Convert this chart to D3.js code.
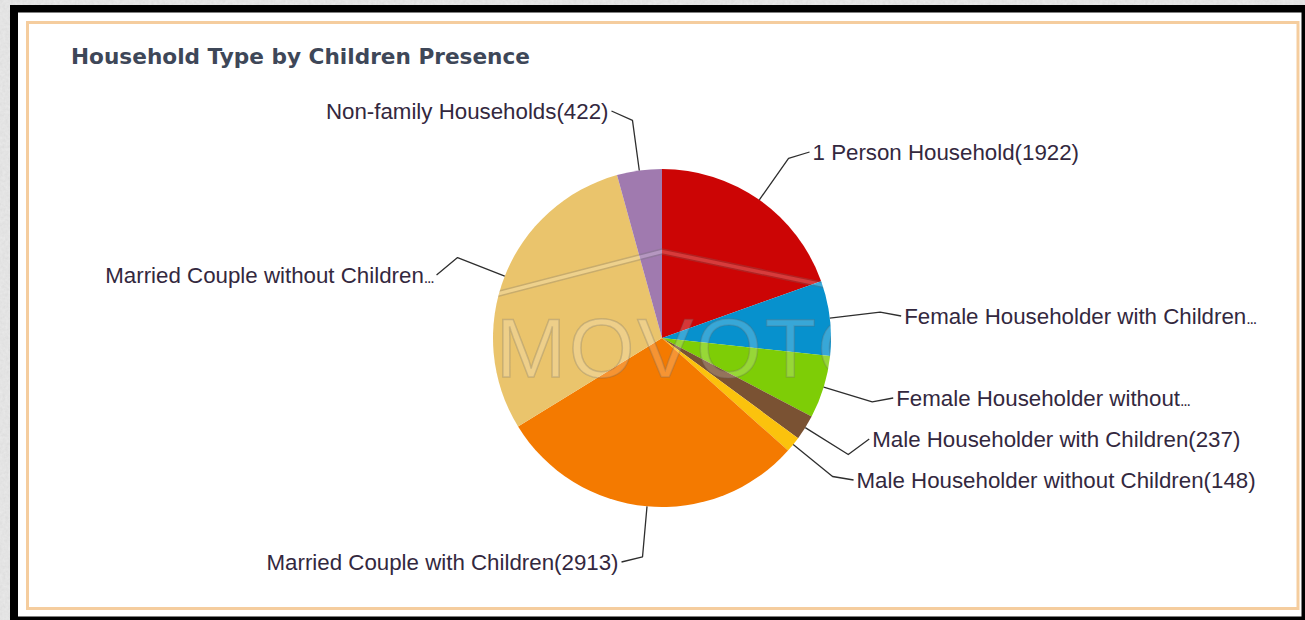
<!DOCTYPE html>
<html>
<head>
<meta charset="utf-8">
<script src="https://cdn.jsdelivr.net/npm/d3@7"></script>
<style>
  html, body { margin: 0; padding: 0; background: #d8d8d8; }
  svg { display: block; }
</style>
</head>
<body>
<svg id="chart" width="1305" height="620"></svg>
<script>
// Household counts by type, in drawing order (clockwise from 12 o'clock)
const categories = [
  "1 Person Household",
  "Female Householder with Children",
  "Female Householder without Children",
  "Male Householder with Children",
  "Male Householder without Children",
  "Married Couple with Children",
  "Married Couple without Children",
  "Non-family Households"
];
const values = [1922, 704, 590, 237, 148, 2913, 2901, 422];
const colors = ["#cc0505", "#0791cd", "#7ecd06", "#7a5233", "#fbc20d", "#f47a00", "#eac46c", "#a07aaf"];
// Labels that are cut short (an ellipsis follows) because they run out of room
const shortLabels = [null, "Female Householder with Children", "Female Householder without", null, null, null, "Married Couple without Children", null];
const title = "Household Type by Children Presence";

const W = 1305, H = 620;
const svg = d3.select("#chart");

// Marble-grey surround
const defs = svg.append("defs");
const grain = defs.append("filter").attr("id", "grain").attr("x", 0).attr("y", 0).attr("width", "100%").attr("height", "100%");
grain.append("feTurbulence").attr("type", "fractalNoise").attr("baseFrequency", 0.35).attr("numOctaves", 2).attr("seed", 4).attr("result", "n");
grain.append("feColorMatrix").attr("in", "n").attr("type", "matrix")
  .attr("values", "0 0 0 0 0.84  0 0 0 0 0.84  0 0 0 0 0.84  0 0 0 0.9 0").attr("result", "c");
grain.append("feComposite").attr("in", "c").attr("in2", "SourceGraphic").attr("operator", "over");
svg.append("rect").attr("width", W).attr("height", H).attr("fill", "#dcdcdc").attr("filter", "url(#grain)");

// Window frame and panel
svg.append("rect").attr("x", 10).attr("y", 5).attr("width", W - 10).attr("height", H - 5).attr("fill", "#000");
svg.append("rect").attr("x", 18).attr("y", 12.5).attr("width", 1283.5).attr("height", 604).attr("fill", "#fff");
svg.append("rect").attr("x", 27.5).attr("y", 22.5).attr("width", 1270.5).attr("height", 586)
  .attr("fill", "none").attr("stroke", "#f5cd9e").attr("stroke-width", 3);

// Title
svg.append("text")
  .attr("x", 71).attr("y", 64)
  .attr("font-family", "'DejaVu Sans', Verdana, sans-serif")
  .attr("font-weight", "bold")
  .attr("font-size", 21)
  .attr("textLength", 459)
  .attr("lengthAdjust", "spacingAndGlyphs")
  .attr("fill", "#3e4758")
  .text(title);

// Pie
const cx = 662, cy = 338, r = 169;
const data = categories.map((c, i) => ({ name: c, value: values[i], color: colors[i], short: shortLabels[i] }));
const pie = d3.pie().sort(null).value(d => d.value).startAngle(0).endAngle(2 * Math.PI);
const arcs = pie(data);
const arc = d3.arc().innerRadius(0).outerRadius(r);

const g = svg.append("g").attr("transform", `translate(${cx},${cy})`);
g.selectAll("path.slice")
  .data(arcs)
  .join("path")
  .attr("class", "slice")
  .attr("d", arc)
  .attr("fill", d => d.data.color);

// Faint watermark across the pie
defs.append("clipPath").attr("id", "pieClip")
  .append("circle").attr("cx", cx).attr("cy", cy).attr("r", r);
const wm = svg.append("g").attr("clip-path", "url(#pieClip)");
const roof = d3.line();
[0, 5].forEach(off => {
  wm.append("path")
    .attr("d", roof([[480, 296 + off], [662, 249 + off], [845, 287 + off]]))
    .attr("fill", "none")
    .attr("stroke", "rgba(110,110,110,0.28)")
    .attr("stroke-width", 1.6);
});
wm.append("path")
  .attr("d", roof([[480, 298.5], [662, 251.5], [845, 289.5]]))
  .attr("fill", "none")
  .attr("stroke", "rgba(255,255,255,0.22)")
  .attr("stroke-width", 3.5);
wm.append("text")
  .attr("x", 496).attr("y", 377)
  .attr("font-family", "'Liberation Sans', Arial, sans-serif")
  .attr("font-size", 84)
  .attr("letter-spacing", 3)
  .attr("fill", "rgba(255,255,255,0.2)")
  .attr("stroke", "rgba(100,100,100,0.26)")
  .attr("stroke-width", 1.5)
  .text("MOVOTO");

// Outside labels with leader lines, snapped to evenly spaced rows
const elbowR = r * 1.30;
const rowH = 41, rowTop = 111;
const usedRows = { left: new Set(), right: new Set() };
const labels = arcs.map(a => {
  const mid = (a.startAngle + a.endAngle) / 2;
  const sx = Math.sin(mid), sy = -Math.cos(mid);
  const right = mid < Math.PI;
  const edge = [cx + r * sx, cy + r * sy];
  const elbow = [cx + elbowR * sx, cy + elbowR * sy];
  const side = right ? "right" : "left";
  let row = Math.round((elbow[1] - rowTop) / rowH);
  while (usedRows[side].has(row)) row += (sy > 0 ? 1 : -1);
  usedRows[side].add(row);
  const ly = rowTop + row * rowH;
  const ax = elbow[0] + (right ? 21 : -21);
  const text = a.data.short ? a.data.short : `${a.data.name}(${a.data.value})`;
  return { edge, elbow, anchor: [ax, ly], right, text, cut: !!a.data.short };
});

const lineGen = d3.line();
svg.append("g").selectAll("path.leader")
  .data(labels)
  .join("path")
  .attr("class", "leader")
  .attr("d", d => lineGen([d.edge, d.elbow, d.anchor]))
  .attr("fill", "none")
  .attr("stroke", "#2e2e2e")
  .attr("stroke-width", 1.3)
  .attr("stroke-linejoin", "round");

const lbl = svg.append("g").selectAll("text.lbl")
  .data(labels)
  .join("text")
  .attr("class", "lbl")
  .attr("x", d => d.anchor[0] + (d.right ? 3 : -3))
  .attr("y", d => d.anchor[1])
  .attr("dy", "0.36em")
  .attr("text-anchor", d => d.right ? "start" : "end")
  .attr("font-family", "'Liberation Sans', Arial, sans-serif")
  .attr("font-size", 22.3)
  .attr("fill", "#33283e");
lbl.append("tspan").text(d => d.text);
// Compact trailing ellipsis on shortened labels
lbl.filter(d => d.cut).append("tspan")
  .attr("font-size", 16)
  .attr("letter-spacing", -1.2)
  .text("...");
</script>
</body>
</html>
